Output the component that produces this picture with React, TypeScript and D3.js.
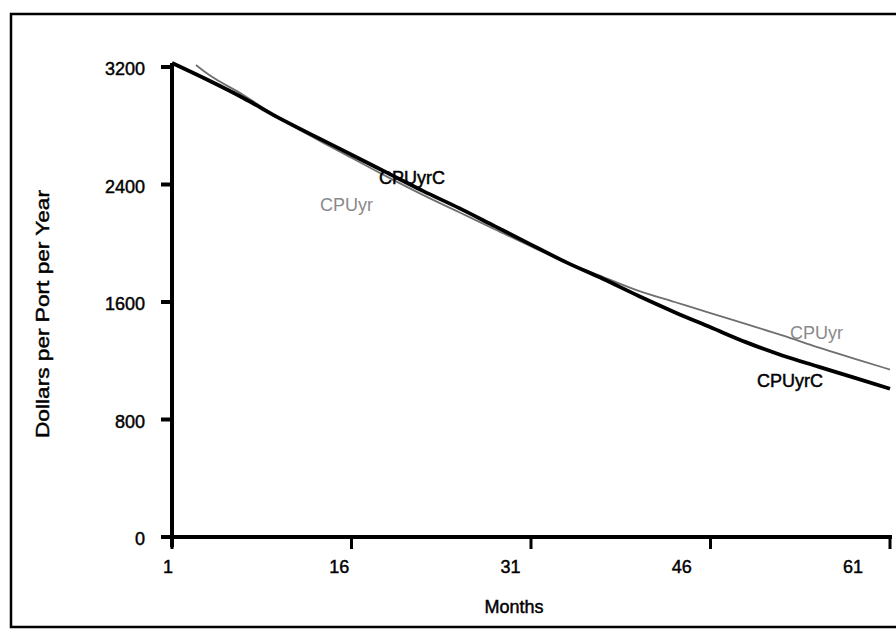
import React from "react";
import * as d3 from "d3";

const yTicks = [0, 800, 1600, 2400, 3200];
const xTicks = [1, 16, 31, 46, 61];

const monthsC = [1, 4, 7, 10, 13, 16, 19, 22, 25, 28, 31, 34, 37, 40, 43, 46, 49, 52, 55, 58, 61];
const cpuYrC = [3227, 3111, 2987, 2850, 2726, 2603, 2479, 2355, 2239, 2115, 1991, 1868, 1758, 1641, 1531, 1428, 1325, 1236, 1160, 1085, 1009];

const monthsR = [3, 4, 7, 10, 13, 16, 19, 22, 25, 28, 31, 34, 37, 40, 43, 46, 49, 52, 55, 58, 61];
const cpuYr = [3214, 3152, 3008, 2850, 2712, 2582, 2452, 2328, 2211, 2094, 1978, 1868, 1772, 1676, 1600, 1524, 1449, 1373, 1291, 1215, 1140];

const FONT = "'Liberation Sans', Arial, Helvetica, sans-serif";
const FS = 18;
const BOLDISH = { stroke: "#000", strokeWidth: 0.45 };

export default function App() {
  const x = d3.scaleLinear().domain([1, 61]).range([172, 890]);
  const xLabel = d3.scaleLinear().domain([1, 61]).range([168, 853]);
  const y = d3.scaleLinear().domain([0, 3200]).range([537, 67]);

  const line = d3
    .line<[number, number]>()
    .x((d) => x(d[0]))
    .y((d) => y(d[1]))
    .curve(d3.curveMonotoneX);

  const dC = line(monthsC.map((m, i) => [m, cpuYrC[i]]) as [number, number][]) || "";
  const dR = line(monthsR.map((m, i) => [m, cpuYr[i]]) as [number, number][]) || "";

  const x0 = x(1);
  const y0 = y(0);

  return (
    <svg
      width={896}
      height={635}
      style={{ position: "absolute", left: 0, top: 0, background: "#fff" }}
      fontFamily={FONT}
    >
      <rect x={11} y={14} width={900} height={613} fill="none" stroke="#000" strokeWidth={2.5} />

      {/* y axis */}
      <line x1={x0} y1={y(3200) - 4} x2={x0} y2={y0 + 10} stroke="#000" strokeWidth={4} />
      {yTicks.map((t) => (
        <g key={"y" + t}>
          <line x1={x0 - 11} x2={x0} y1={y(t)} y2={y(t)} stroke="#000" strokeWidth={4} />
          <text x={145} y={y(t) + 2} dy="0.35em" textAnchor="end" fontSize={FS} {...BOLDISH}>
            {t}
          </text>
        </g>
      ))}

      {/* x axis */}
      <line x1={x0 - 6} x2={x(61) + 2} y1={y0} y2={y0} stroke="#000" strokeWidth={4} />
      {xTicks.map((t) => (
        <g key={"x" + t}>
          <line x1={x(t)} x2={x(t)} y1={y0} y2={y0 + 12} stroke="#000" strokeWidth={3} />
          <text x={xLabel(t)} y={573} textAnchor="middle" fontSize={FS} {...BOLDISH}>
            {t}
          </text>
        </g>
      ))}

      <text x={514} y={613} textAnchor="middle" fontSize={FS} {...BOLDISH}>
        Months
      </text>
      <text
        transform={`translate(49,${314}) rotate(-90)`}
        textAnchor="middle"
        fontSize={19}
        textLength={248}
        lengthAdjust="spacingAndGlyphs"
        {...BOLDISH}
      >
        Dollars per Port per Year
      </text>

      {/* lines */}
      <path d={dR} fill="none" stroke="#6f6f6f" strokeWidth={1.8} />
      <path d={dC} fill="none" stroke="#000" strokeWidth={3.8} />

      {/* labels */}
      <text x={379} y={184} fontSize={FS} fill="#000" {...BOLDISH}>CPUyrC</text>
      <text x={320} y={211} fontSize={FS} fill="#8a8a8a">CPUyr</text>
      <text x={790} y={339} fontSize={FS} fill="#8a8a8a">CPUyr</text>
      <text x={757} y={387} fontSize={FS} fill="#000" {...BOLDISH}>CPUyrC</text>
    </svg>
  );
}
